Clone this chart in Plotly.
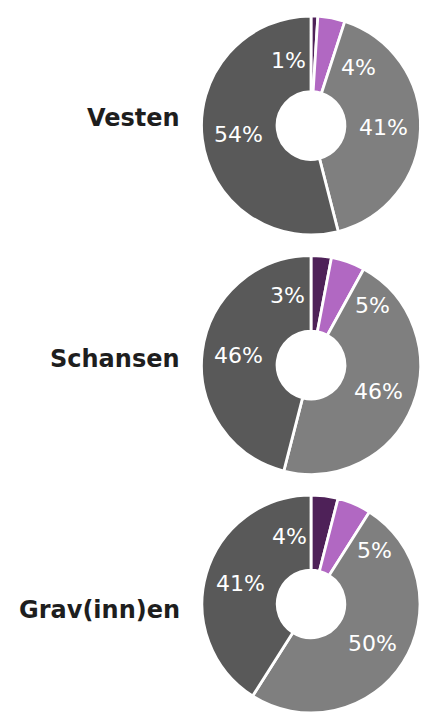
import math
import plotly.graph_objects as go

# ---- data -------------------------------------------------------------
sites = ["Vesten", "Schansen", "Grav(inn)en"]
vesten = [1, 4, 41, 54]
schansen = [3, 5, 46, 46]
graven = [4, 5, 50, 41]
series = [vesten, schansen, graven]

# ---- styling / layout ------------------------------------------------
W, H = 430, 713
slice_colors = ["#4E2158", "#B168C2", "#7F7F7F", "#595959"]
FONT = "DejaVu Sans"
CX = 311            # pie centre x (px)
CY = [125.5, 365, 604.5]   # pie centre y (px, from top)
R = 109.5           # pie radius (px)
HOLE = 0.31
LABEL_R = 73        # radius of in-slice value labels (px)
SITE_LABEL_X = 182  # right edge of site names (px)
SITE_LABEL_Y = [117.5, 358.5, 610]

# small slices get their value label nudged off the slice: (angle deg clockwise from top, radius px)
small_label_place = [
    {0: (-18.7, 69), 1: (39, 75)},
    {0: (-18.8, 73), 1: (46, 86)},
    {0: (-17.6, 71), 1: (50, 83)},
]

fig = go.Figure()
annotations = []

for i, (name, vals) in enumerate(zip(sites, series)):
    top = max(CY[i] - R, 0)
    bot = min(CY[i] + R, H)
    dom_y = [1 - bot / H, 1 - top / H]
    dom_x = [(CX - R) / W, (CX + R) / W]
    fig.add_trace(go.Pie(
        values=vals,
        labels=[f"s{k}" for k in range(len(vals))],
        name=name,
        sort=False,
        direction="clockwise",
        rotation=0,
        hole=HOLE,
        textinfo="none",
        hoverinfo="skip",
        marker=dict(colors=slice_colors, line=dict(color="white", width=2.8)),
        domain=dict(x=dom_x, y=dom_y),
        showlegend=False,
    ))

    # actual pie centre / radius as Plotly lays it out in the domain
    dw = (dom_x[1] - dom_x[0]) * W
    dh = (dom_y[1] - dom_y[0]) * H
    cx = (dom_x[0] + dom_x[1]) / 2 * W
    cy = H - (dom_y[0] + dom_y[1]) / 2 * H

    total = sum(vals)
    cum = 0
    for k, v in enumerate(vals):
        mid = 360 * (cum + v / 2) / total
        cum += v
        ang, rad = small_label_place[i].get(k, (mid, LABEL_R))
        a = math.radians(ang)
        x = cx + rad * math.sin(a)
        y = cy - rad * math.cos(a)
        annotations.append(dict(
            x=x / W, y=1 - y / H, xref="paper", yref="paper",
            text=f"{v}%", showarrow=False,
            xanchor="center", yanchor="middle",
            font=dict(family=FONT, size=22, color="white"),
        ))

    annotations.append(dict(
        x=SITE_LABEL_X / W, y=1 - SITE_LABEL_Y[i] / H,
        xref="paper", yref="paper",
        text=f"<b>{name}</b>", showarrow=False,
        xanchor="right", yanchor="middle",
        font=dict(family=FONT, size=24, color="#1E1E1E"),
    ))

fig.update_layout(
    width=W, height=H, autosize=False,
    margin=dict(l=0, r=0, t=0, b=0),
    paper_bgcolor="white", plot_bgcolor="white",
    annotations=annotations,
)

fig.write_html("out.html", config={"displayModeBar": False})
